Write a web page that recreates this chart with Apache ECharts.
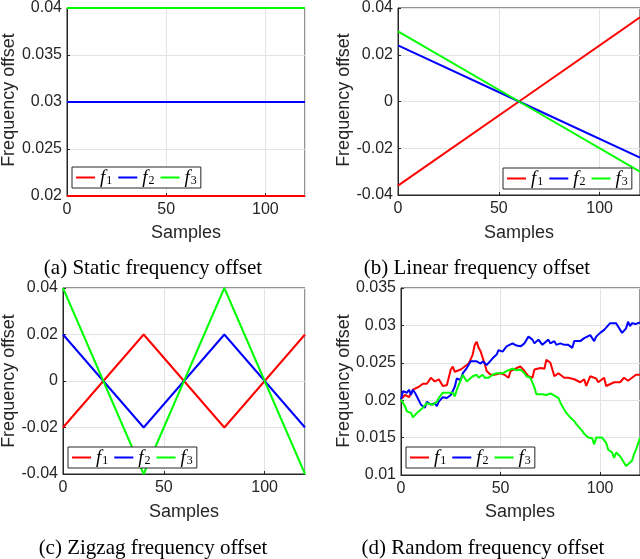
<!DOCTYPE html>
<html>
<head>
<meta charset="utf-8">
<script src="https://cdn.jsdelivr.net/npm/echarts@6/dist/echarts.min.js"></script>
<style>html,body{margin:0;padding:0;background:#fff}#c{width:640px;height:559px}</style>
</head>
<body>
<div id="c"></div>
<script>
// ---------- data ----------
const seriesNames = ['f1', 'f2', 'f3'];
const xTicks = [0, 50, 100];

// (a) static
const staticX = [0, 120];
const staticF1 = [0.02, 0.02];
const staticF2 = [0.03, 0.03];
const staticF3 = [0.04, 0.04];

// (b) linear
const linearX = [0, 60, 120];
const linearF1 = [-0.036, 0, 0.036];
const linearF2 = [0.024, 0, -0.024];
const linearF3 = [0.03, 0, -0.03];

// (c) zigzag
const zigX = [0, 40, 80, 120];
const zigF1 = [-0.02, 0.02, -0.02, 0.02];
const zigF2 = [0.02, -0.02, 0.02, -0.02];
const zigF3 = [0.04, -0.04, 0.04, -0.04];

// (d) random
const randF1X = [0, 2, 4, 6, 9, 11, 13, 15, 17, 19, 21, 23, 25, 26, 27, 30, 32, 34, 36, 37, 38, 39, 40, 42, 43, 45, 47, 50, 52, 54, 55, 58, 60, 62, 64, 66, 67, 70, 72, 73, 75, 76, 77, 79, 82, 84, 87, 88, 90, 92, 93, 95, 98, 99, 102, 103, 104, 107, 108, 110, 112, 114, 116, 118, 120];
const randF1 = [0.0201, 0.0207, 0.0204, 0.0214, 0.0218, 0.0222, 0.0222, 0.0230, 0.0225, 0.0228, 0.0219, 0.0220, 0.0241, 0.0245, 0.0238, 0.0241, 0.0245, 0.0249, 0.0261, 0.0274, 0.0278, 0.0270, 0.0265, 0.0249, 0.0239, 0.0234, 0.0234, 0.0236, 0.0234, 0.0230, 0.0239, 0.0243, 0.0245, 0.0239, 0.0232, 0.0230, 0.0241, 0.0243, 0.0242, 0.0254, 0.0250, 0.0241, 0.0232, 0.0236, 0.0230, 0.0230, 0.0228, 0.0230, 0.0224, 0.0228, 0.0219, 0.0232, 0.0229, 0.0224, 0.0230, 0.0219, 0.0217, 0.0224, 0.0226, 0.0224, 0.0230, 0.0226, 0.0230, 0.0234, 0.0234];
const randF2X = [0, 1, 3, 4, 5, 6, 7, 8, 10, 12, 13, 15, 17, 18, 19, 21, 23, 25, 27, 28, 30, 31, 33, 35, 38, 40, 41, 43, 46, 48, 49, 51, 53, 54, 56, 58, 60, 62, 64, 66, 67, 69, 71, 72, 74, 75, 77, 78, 80, 82, 84, 86, 87, 90, 92, 93, 95, 97, 98, 100, 102, 103, 105, 108, 109, 111, 113, 114, 115, 116, 118, 120];
const randF2 = [0.0201, 0.0212, 0.0210, 0.0214, 0.0207, 0.0214, 0.0210, 0.0205, 0.0194, 0.0190, 0.0198, 0.0194, 0.0196, 0.0192, 0.0198, 0.0204, 0.0203, 0.0207, 0.0218, 0.0229, 0.0227, 0.0236, 0.0243, 0.0252, 0.0252, 0.0249, 0.0252, 0.0247, 0.0256, 0.0261, 0.0267, 0.0265, 0.0272, 0.0270, 0.0276, 0.0273, 0.0272, 0.0276, 0.0285, 0.0281, 0.0276, 0.0281, 0.0274, 0.0272, 0.0281, 0.0276, 0.0279, 0.0274, 0.0276, 0.0274, 0.0274, 0.0270, 0.0279, 0.0279, 0.0283, 0.0281, 0.0287, 0.0279, 0.0285, 0.0290, 0.0294, 0.0296, 0.0303, 0.0303, 0.0301, 0.0290, 0.0296, 0.0305, 0.0299, 0.0303, 0.0302, 0.0304];
const randF3X = [0, 2, 3, 5, 6, 8, 9, 11, 13, 14, 16, 18, 19, 21, 23, 24, 26, 27, 28, 30, 31, 32, 33, 34, 36, 38, 39, 41, 42, 44, 46, 48, 51, 53, 56, 58, 60, 62, 63, 65, 67, 68, 69, 71, 73, 75, 77, 79, 80, 81, 82, 83, 85, 87, 88, 89, 91, 92, 94, 96, 97, 98, 99, 101, 103, 104, 106, 107, 108, 110, 111, 113, 114, 116, 117, 118, 119, 120];
const randF3 = [0.0201, 0.0192, 0.0185, 0.0183, 0.0177, 0.0183, 0.0185, 0.0190, 0.0196, 0.0196, 0.0194, 0.0198, 0.0203, 0.0210, 0.0210, 0.0212, 0.0210, 0.0205, 0.0214, 0.0227, 0.0234, 0.0236, 0.0225, 0.0227, 0.0232, 0.0234, 0.0230, 0.0234, 0.0230, 0.0230, 0.0234, 0.0236, 0.0236, 0.0239, 0.0242, 0.0240, 0.0241, 0.0236, 0.0232, 0.0230, 0.0217, 0.0208, 0.0206, 0.0208, 0.0207, 0.0209, 0.0206, 0.0203, 0.0197, 0.0192, 0.0190, 0.0183, 0.0177, 0.0172, 0.0168, 0.0166, 0.0159, 0.0155, 0.0150, 0.0149, 0.0141, 0.0150, 0.0149, 0.0150, 0.0143, 0.0134, 0.0130, 0.0123, 0.0130, 0.0125, 0.0123, 0.0112, 0.0114, 0.0119, 0.0128, 0.0134, 0.0142, 0.0150];

const captions = ['(a) Static frequency offset', '(b) Linear frequency offset', '(c) Zigzag frequency offset', '(d) Random frequency offset'];
const yTitle = 'Frequency offset';
const xTitle = 'Samples';

// ---------- styling / layout ----------
const colors = ['#ff0000', '#0000ff', '#00ff00'];
const axisColor = '#262626';
const gridColor = '#e3e3e3';
const sans = '"Liberation Sans", Arial, Helvetica, sans-serif';
const serif = '"Liberation Serif", "Times New Roman", serif';

const grids = [
  { left: 67, top: 7, width: 238, height: 189 },
  { left: 398, top: 7, width: 242, height: 188 },
  { left: 63, top: 288, width: 242, height: 186 },
  { left: 401, top: 288, width: 239, height: 187 }
];
const yRanges = [
  { min: 0.02, max: 0.04, interval: 0.005 },
  { min: -0.04, max: 0.04, interval: 0.02 },
  { min: -0.04, max: 0.04, interval: 0.02 },
  { min: 0.01, max: 0.035, interval: 0.005 }
];
const legendPos = [
  { left: 72, top: 167 },
  { left: 503, top: 168 },
  { left: 68, top: 447 },
  { left: 406, top: 447 }
];
const captionPos = [[153, 268], [477, 268], [153, 548], [483, 548]];
const yTitlePos = [[9, 100], [344, 100], [9, 381], [344, 381]];
const xTitlePos = [[186, 233], [519, 233], [184, 512], [520, 512]];

const pairs = (xs, ys) => xs.map((x, i) => [x, ys[i]]);
const panelData = [
  [pairs(staticX, staticF1), pairs(staticX, staticF2), pairs(staticX, staticF3)],
  [pairs(linearX, linearF1), pairs(linearX, linearF2), pairs(linearX, linearF3)],
  [pairs(zigX, zigF1), pairs(zigX, zigF2), pairs(zigX, zigF3)],
  [pairs(randF1X, randF1), pairs(randF2X, randF2), pairs(randF3X, randF3)]
];

const option = {
  animation: false,
  backgroundColor: '#fff',
  grid: grids.map(g => Object.assign({ show: true, borderColor: axisColor, borderWidth: 1, backgroundColor: '#fff' }, g)),
  xAxis: grids.map((g, i) => ({
    type: 'value', gridIndex: i, min: 0, max: 120, interval: 50,
    axisLine: { show: true, onZero: false, lineStyle: { color: axisColor, width: 1 } },
    axisTick: { show: true, inside: true, length: 3, lineStyle: { color: axisColor } },
    axisLabel: { color: axisColor, fontFamily: sans, fontSize: 16, margin: 6, showMaxLabel: false },
    splitLine: { show: true, lineStyle: { color: gridColor, width: 1 } }
  })),
  yAxis: yRanges.map((r, i) => ({
    type: 'value', gridIndex: i, min: r.min, max: r.max, interval: r.interval,
    axisLine: { show: true, onZero: false, lineStyle: { color: axisColor, width: 1 } },
    axisTick: { show: true, inside: true, length: 3, lineStyle: { color: axisColor } },
    axisLabel: { color: axisColor, fontFamily: sans, fontSize: 16, margin: 5 },
    splitLine: { show: true, lineStyle: { color: gridColor, width: 1 } }
  })),
  legend: legendPos.map(p => ({
    data: seriesNames,
    left: p.left, top: p.top,
    orient: 'horizontal',
    backgroundColor: '#fff', borderColor: axisColor, borderWidth: 1, borderRadius: 0,
    padding: [1, 4, 1, 4],
    itemWidth: 19, itemHeight: 2, itemGap: 6, icon: 'rect',
    selectedMode: false,
    formatter: n => '{f|f}{s|' + n.slice(1) + '}',
    textStyle: {
      rich: {
        f: { fontFamily: serif, fontStyle: 'italic', fontSize: 19, color: '#000', lineHeight: 21 },
        s: { fontFamily: serif, fontSize: 12, color: '#000', padding: [7, 0, 0, 1], lineHeight: 21 }
      }
    }
  })),
  series: [],
  graphic: []
};

panelData.forEach((sets, p) => {
  sets.forEach((d, k) => {
    option.series.push({
      type: 'line', name: seriesNames[k], xAxisIndex: p, yAxisIndex: p,
      data: d, symbol: 'none', clip: false,
      lineStyle: { color: colors[k], width: 2 },
      itemStyle: { color: colors[k] },
      z: 3
    });
  });
});

for (let p = 0; p < 4; p++) {
  option.graphic.push({
    type: 'text', x: yTitlePos[p][0], y: yTitlePos[p][1], rotation: Math.PI / 2,
    style: { text: yTitle, fontFamily: sans, fontSize: 18, fill: axisColor, align: 'center', verticalAlign: 'middle' }
  });
  option.graphic.push({
    type: 'text', x: xTitlePos[p][0], y: xTitlePos[p][1],
    style: { text: xTitle, fontFamily: sans, fontSize: 18, fill: axisColor, align: 'center', verticalAlign: 'middle' }
  });
  option.graphic.push({
    type: 'text', x: captionPos[p][0], y: captionPos[p][1],
    style: { text: captions[p], fontFamily: serif, fontSize: 21, fill: '#000', align: 'center', verticalAlign: 'middle' }
  });
}

const chart = echarts.init(document.getElementById('c'), null, { renderer: 'canvas' });
chart.setOption(option);
</script>
</body>
</html>
